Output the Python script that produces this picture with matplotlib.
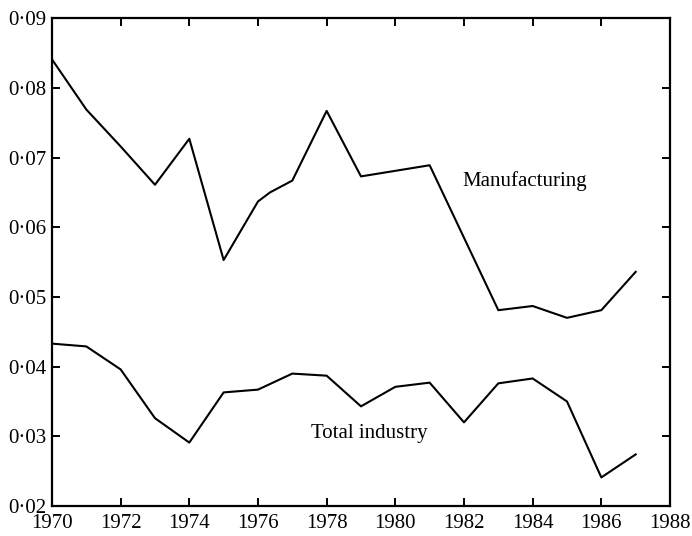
import matplotlib.pyplot as plt
from matplotlib.ticker import FuncFormatter, MultipleLocator

# -----------------------------
# Data
# -----------------------------
manuf_years = [1970, 1971, 1972, 1973, 1974, 1975, 1976, 1976.35, 1977, 1978,
               1979, 1980, 1981, 1982, 1983, 1984, 1985, 1986, 1987]
manuf_vals = [0.0841, 0.0769, 0.0716, 0.0661, 0.0727, 0.0553, 0.0637, 0.0650, 0.0667, 0.0767,
              0.0673, 0.0681, 0.0689, 0.0585, 0.0481, 0.0487, 0.0470, 0.0481, 0.0536]

total_years = list(range(1970, 1988))
total_vals = [0.0433, 0.0429, 0.0396, 0.0326, 0.0291, 0.0363, 0.0367, 0.0390, 0.0387,
              0.0343, 0.0371, 0.0377, 0.0320, 0.0376, 0.0383, 0.0350, 0.0241, 0.0274]

plt.rcParams["font.family"] = ["Liberation Serif", "DejaVu Serif"]

fig = plt.figure(figsize=(6.92, 5.36), dpi=100)
ax = fig.add_axes([0.0751, 0.056, 0.8931, 0.910])

ax.plot(manuf_years, manuf_vals, color="black", lw=1.5)
ax.plot(total_years, total_vals, color="black", lw=1.5)

ax.text(1981.95, 0.0667, "Manufacturing", fontsize=15, va="center", ha="left")
ax.text(1977.55, 0.0304, "Total industry", fontsize=15, va="center", ha="left")

ax.set_xlim(1970, 1988)
ax.set_ylim(0.02, 0.09)
ax.xaxis.set_major_locator(MultipleLocator(2))
ax.yaxis.set_major_locator(MultipleLocator(0.01))
ax.yaxis.set_major_formatter(FuncFormatter(lambda v, p: f"{v:.2f}".replace(".", "\u00b7")))

ax.tick_params(direction="in", length=6, width=1.4, top=True, right=True,
               labelsize=15, colors="black")
ax.tick_params(axis="x", pad=6)
ax.tick_params(axis="y", pad=4)
for s in ax.spines.values():
    s.set_linewidth(1.6)

fig.savefig("out.png", dpi=100)
